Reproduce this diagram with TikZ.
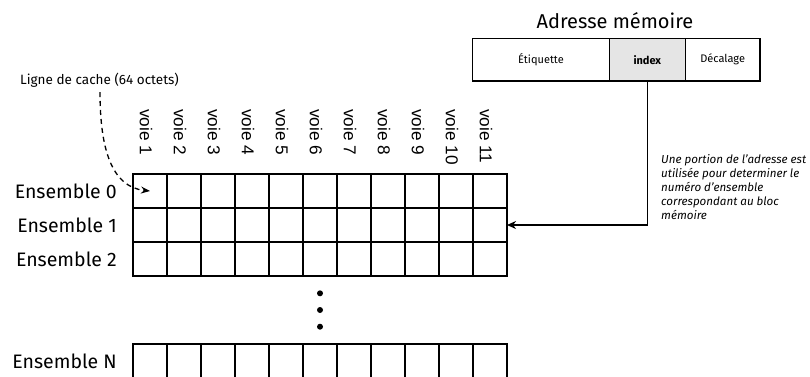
\documentclass[tikz,border=0pt]{standalone}
\usepackage{fontspec}
\setmainfont{Fira Sans}
\newfontfamily\arialf{Liberation Sans}
\usetikzlibrary{arrows.meta}
\tikzset{
  cell/.style={draw, line width=1.3pt, minimum width=34pt, minimum height=34pt, inner sep=0pt, outer sep=0pt},
  addr/.style={draw, line width=1.3pt, minimum height=42.7pt, inner sep=0pt, outer sep=0pt, font=\fontsize{11}{13}\selectfont},
  setlabel/.style={anchor=east, font=\fontsize{19.5}{22}\selectfont, inner sep=0pt},
  voielabel/.style={rotate=-90, anchor=west, font=\arialf\fontsize{17.2}{20}\selectfont, inner sep=0pt},
  conn/.style={line width=1.3pt, -{Stealth[length=9pt,width=8pt]}},
}
\begin{document}
\begin{tikzpicture}[x=1pt,y=-1pt]
\useasboundingbox (0,0) rectangle (810,376);
\clip (0,0) rectangle (810,376);
% grid rows
\foreach \r/\y in {0/191, 1/225, 2/259, N/361} {
  \foreach \c in {1,...,11} {
    \node[cell] (c\r-\c) at ({133+34*(\c-0.5)}, \y) {};
  }
}
\foreach \c in {1,...,11} {
  \node[voielabel] (v\c) at ({133+34*(\c-0.5)-4}, 109) {voie \c};
}
\node[setlabel] (e0) at (117,191) {Ensemble 0};
\node[setlabel] (e1) at (117,225) {Ensemble 1};
\node[setlabel] (e2) at (117,259) {Ensemble 2};
\node[setlabel] (eN) at (117,361) {Ensemble N};
% dots
\fill (320,293.3) circle (3pt) (320,310) circle (3pt) (320,326.7) circle (3pt);
% address
\node[font=\fontsize{20}{24}\selectfont, inner sep=0pt] (title) at (615,21) {Adresse mémoire};
\node[addr, minimum width=136.6pt] (etiq) at (541,59.65) {Étiquette};
\node[addr, minimum width=76pt, fill=black!10, font=\bfseries\fontsize{11}{13}\selectfont] (idx) at (647.3,59.65) {index};
\node[addr, minimum width=74.7pt] (dec) at (722.65,59.65) {Décalage};
\draw[conn] (idx.south) |- (c1-11.east);
% note
\node[anchor=north west, align=left, inner sep=0pt, font=\itshape\fontsize{11.6}{14}\selectfont] (note) at (661,154) {Une portion de l'adresse est\\utilisée pour determiner le\\numéro d'ensemble\\correspondant au bloc\\mémoire};
% cache line
\node[font=\fontsize{13.5}{16}\selectfont, inner sep=0pt] (ligne) at (99.5,80) {Ligne de cache (64 octets)};
\draw[line width=1.3pt, dash pattern=on 5pt off 4pt, -{Stealth[length=9pt,width=7pt]}] (100,92) .. controls (100,150) and (112,187) .. (c0-1.center);
\end{tikzpicture}
\end{document}
